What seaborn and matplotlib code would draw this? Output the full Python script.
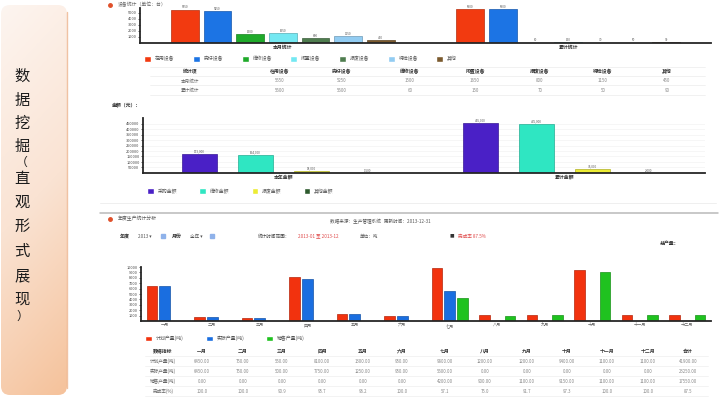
import numpy as np
import pandas as pd
import matplotlib.pyplot as plt
import matplotlib.colors as mcolors
import seaborn as sns
from matplotlib.patches import FancyBboxPatch

# ---- 数据（从截图中估读）----
side_title = list("数据挖掘（直观形式展现）")

top_groups = ["本月统计", "累计统计"]
top_series = ["在用设备", "完好设备", "维修设备", "闲置设备", "报废设备", "待检设备", "其他"]
top_month = [5550, 5250, 1500, 1650, 800, 1150, 450]
top_total = [5600, 5600, 60, 150, 70, 50, 90]
top_colors = ["#f23a10", "#1c74e4", "#1faa2a", "#74e8f2", "#4f7d4f", "#92ccf2", "#7b5a2e"]

mid_groups = ["本年金额", "累计金额"]
mid_series = ["采购金额", "维修金额", "报废金额", "其他金额"]
mid_year = [173000, 164000, 18000, 1500]
mid_total = [455000, 445000, 36000, 2000]
mid_colors = ["#4a20c6", "#2fe6c2", "#ecec34", "#2d5a2d"]

months = ["一月", "二月", "三月", "四月", "五月", "六月",
          "七月", "八月", "九月", "十月", "十一月", "十二月"]
bot_series = ["计划产量(吨)", "实际产量(吨)", "销售产量(吨)"]
bot_plan = [6450, 750, 550, 8100, 1300, 950, 9800, 1200, 1200, 9400, 1100, 1100]
bot_real = [6450, 750, 500, 7750, 1250, 950, 5600, 0, 0, 0, 0, 0]
bot_sale = [0, 0, 0, 0, 0, 0, 4200, 900, 1100, 9150, 1100, 1100]
bot_rate = ["100.0", "100.0", "90.9", "95.7", "96.2", "100.0",
            "57.1", "75.0", "91.7", "97.3", "100.0", "100.0", "87.5"]
bot_colors = ["#f2320e", "#1a6ee0", "#1fc21f"]

# ---- 画布 ----
sns.set_theme(style="white")
plt.rcParams["font.family"] = ["Noto Sans CJK SC", "DejaVu Sans"]
plt.rcParams["axes.unicode_minus"] = False

W, H = 720, 411
fig = plt.figure(figsize=(W / 100, H / 100), dpi=100)
fig.patch.set_facecolor("white")

# 背景层，用像素坐标放文字和线
bg = fig.add_axes([0, 0, 1, 1])
bg.axis("off")


def px_axes(x0, y0, x1, y1):
    ax = fig.add_axes([x0 / W, 1 - y1 / H, (x1 - x0) / W, (y1 - y0) / H])
    ax.set_facecolor("none")
    return ax


def style_chart(ax, yticks, xbold=False, xsize=3.5):
    ax.set_xlabel("")
    ax.set_ylabel("")
    sns.despine(ax=ax)
    for side in ("left", "bottom"):
        ax.spines[side].set_color("#262626")
        ax.spines[side].set_linewidth(1.3)
    ax.set_yticks(yticks)
    ax.tick_params(axis="y", left=True, length=1.5, width=0.5,
                   labelsize=2.8, labelcolor="#444", pad=1)
    ax.tick_params(axis="x", bottom=False, length=0, labelsize=xsize,
                   labelcolor="#333", pad=1.5)
    for lab in ax.get_xticklabels():
        lab.set_fontweight("bold" if xbold else "normal")
    for p in ax.patches:
        fc = np.array(mcolors.to_rgb(p.get_facecolor()))
        p.set_edgecolor(fc * 0.75)
        p.set_linewidth(0.5)


def legend_below(ax, y, ncol, spacing):
    sns.move_legend(ax, "upper left", bbox_to_anchor=(0.0, y), ncol=ncol, frameon=False,
                    title=None, fontsize=3.5, handlelength=1.4, handleheight=1.4,
                    handletextpad=0.8, columnspacing=spacing)
    for t in ax.get_legend().get_texts():
        t.set_color("#555")


# ---- 左侧标题栏 ----
panel = FancyBboxPatch((1, 5), 66, 390, boxstyle="round,pad=0,rounding_size=9",
                       fc="none", ec="none")
bg.add_patch(panel)
peach = mcolors.LinearSegmentedColormap.from_list("peach", ["#fdf5f0", "#fae3d3", "#f5c29b"])
ty = np.linspace(0, 1, 256)[:, None]
tx = np.linspace(0, 1, 32)[None, :]
img = bg.imshow(0.85 * ty + 0.15 * tx, cmap=peach, extent=(1, 67, 395, 5),
                aspect="auto", interpolation="bicubic")
img.set_clip_path(panel)
bg.plot([66.5, 66.5], [12, 388], color="#eaa97c", lw=1, alpha=0.7)
bg.set_xlim(0, W)
bg.set_ylim(H, 0)

ys = [76, 100, 123, 146, 162, 178, 202, 226, 251, 276, 299, 316]
for ch, y in zip(side_title, ys):
    size = 8.5 if ch in "（）" else 11
    bg.text(22, y, ch, fontsize=size, ha="center", va="center", color="#1c1c1c")

# ---- 图一 ----
bg.plot(110, 5, "o", ms=2.5, color="#e0502a")
bg.text(118, 5, "设备统计（单位：台）", fontsize=3.5, color="#666", va="center")

ax1 = px_axes(140, 8, 711, 43)
df_top = pd.DataFrame({"分组": np.repeat(top_groups, len(top_series)),
                       "类别": top_series * 2,
                       "数量": top_month + top_total})
sns.barplot(data=df_top, x="分组", y="数量", hue="类别", hue_order=top_series,
            palette=top_colors, saturation=1, gap=0.15, errorbar=None, ax=ax1)
ax1.set_ylim(0, 5800)
style_chart(ax1, range(1000, 6000, 1000), xbold=True)
for c in ax1.containers:
    ax1.bar_label(c, fmt="{:.0f}", fontsize=2.2, color="#555", padding=0.3)
legend_below(ax1, -0.25, 7, 3.8)

t1_cols = [190, 280, 342, 410, 475, 540, 603, 667]
for x, s in zip(t1_cols, ["统计项"] + top_series):
    bg.text(x, 72, s, fontsize=3.5, fontweight="bold", color="#333", ha="center", va="center")
for y, g, vals in zip([81, 90], top_groups, [top_month, top_total]):
    bg.text(t1_cols[0], y, g, fontsize=3.3, color="#666", ha="center", va="center")
    for x, v in zip(t1_cols[1:], vals):
        bg.text(x, y, f"{v}", fontsize=3.2, color="#888", ha="center", va="center")
for y in (67, 76.5, 85.5, 95):
    bg.plot([150, 705], [y, y], color="#ececec", lw=0.5)

# ---- 图二 ----
bg.text(112, 106, "金额（元）：", fontsize=3.5, fontweight="bold", color="#333", va="center")
ax2 = px_axes(143, 118, 705, 173)
df_mid = pd.DataFrame({"分组": np.repeat(mid_groups, len(mid_series)),
                       "类别": mid_series * 2,
                       "金额": mid_year + mid_total})
sns.barplot(data=df_mid, x="分组", y="金额", hue="类别", hue_order=mid_series,
            palette=mid_colors, saturation=1, gap=0.38, errorbar=None, ax=ax2)
ax2.set_ylim(0, 500000)
style_chart(ax2, range(50000, 500000, 50000), xbold=True)
ax2.yaxis.grid(True, color="#efefef", lw=0.4)
ax2.set_axisbelow(True)
for c in ax2.containers:
    ax2.bar_label(c, fmt="{:,.0f}", fontsize=2.2, color="#555", padding=0.3)
legend_below(ax2, -0.2, 4, 4.5)

bg.plot([100, 716], [203, 203], color="#ececec", lw=0.6)
bg.plot([100, 718], [213, 213], color="#b9b9b9", lw=1.1)

# ---- 图三 ----
bg.plot(110, 219, "o", ms=2.5, color="#e0502a")
bg.text(118, 219, "年度生产统计分析", fontsize=3.5, color="#555", va="center")
bg.text(330, 221, "数据来源：生产管理系统   更新时间：2013-12-31", fontsize=3.3,
        color="#555", va="center")
bg.text(120, 236, "年度", fontsize=3.6, fontweight="bold", color="#333", va="center")
bg.text(138, 236, "2013 ▾", fontsize=3.3, color="#555", va="center")
bg.plot(163, 236, "s", ms=3, color="#8fb2ea")
bg.text(172, 236, "月份", fontsize=3.6, fontweight="bold", color="#333", va="center")
bg.text(190, 236, "全年 ▾", fontsize=3.3, color="#555", va="center")
bg.plot(212, 236, "s", ms=3, color="#8fb2ea")
bg.text(258, 236, "统计时间范围：", fontsize=3.3, color="#444", va="center")
bg.text(298, 236, "2013-01 至 2013-12", fontsize=3.3, color="#e04a4a", va="center")
bg.text(360, 236, "单位：吨", fontsize=3.3, color="#555", va="center")
bg.text(450, 236, "■", fontsize=3.3, color="#333", va="center")
bg.text(458, 236, "完成率 87.5%", fontsize=3.3, color="#e04a4a", va="center")
bg.text(660, 243, "总产量：", fontsize=3.5, fontweight="bold", color="#333", va="center")

ax3 = px_axes(141, 267, 711, 321)
df_bot = pd.DataFrame({"月份": months * 3,
                       "指标": np.repeat(bot_series, len(months)),
                       "产量": bot_plan + bot_real + bot_sale})
sns.barplot(data=df_bot, x="月份", y="产量", hue="指标", hue_order=bot_series,
            palette=bot_colors, saturation=1, gap=0.15, errorbar=None, ax=ax3)
ax3.set_ylim(0, 10000)
style_chart(ax3, range(1000, 11000, 1000), xsize=3)
ax3.tick_params(axis="x", labelcolor="#666")
legend_below(ax3, -0.19, 3, 4.5)

t2_cols = [163, 202, 243, 282, 322, 363, 402, 445, 485, 527, 567, 607, 648, 688]
for x, s in zip(t2_cols, ["数据指标"] + months + ["合计"]):
    bg.text(x, 351, s, fontsize=3.5, fontweight="bold", color="#333", ha="center", va="center")
rows = [(bot_series[0], [f"{v:.2f}" for v in bot_plan] + [f"{sum(bot_plan):.2f}"]),
        (bot_series[1], [f"{v:.2f}" for v in bot_real] + [f"{sum(bot_real):.2f}"]),
        (bot_series[2], [f"{v:.2f}" for v in bot_sale] + [f"{sum(bot_sale):.2f}"]),
        ("完成率(%)", bot_rate)]
for y, (name, vals) in zip([361, 371, 381, 391], rows):
    bg.text(t2_cols[0], y, name, fontsize=3.3, color="#666", ha="center", va="center")
    for x, v in zip(t2_cols[1:], vals):
        bg.text(x, y, v, fontsize=3.1, color="#888", ha="center", va="center")
for y in (356, 366, 376, 386, 396):
    bg.plot([145, 708], [y, y], color="#efefef", lw=0.5)

fig.savefig("out.png", dpi=100)
